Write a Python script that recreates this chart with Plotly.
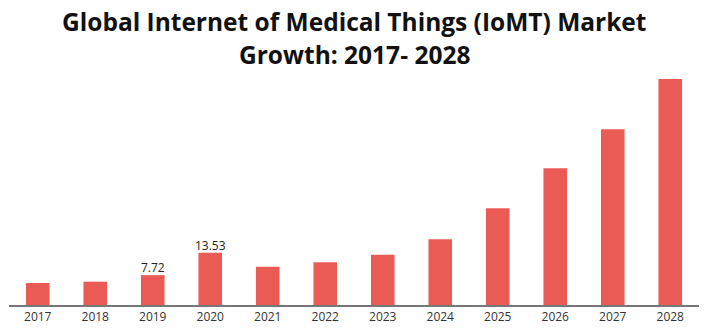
import plotly.graph_objects as go

years = ["2017", "2018", "2019", "2020", "2021", "2022", "2023", "2024", "2025", "2026", "2027", "2028"]
values = [5.69, 6.03, 7.72, 13.53, 9.91, 11.04, 13.0, 17.0, 25.0, 35.36, 45.45, 58.46]
labels = ["", "", "7.72", "13.53", "", "", "", "", "", "", "", ""]
title_lines = ["Global Internet of Medical Things (IoMT) Market", "Growth: 2017- 2028"]

fig = go.Figure()
fig.add_trace(go.Bar(
    x=years, y=values,
    marker=dict(color="#EB5B56", line=dict(width=0)),
    hoverinfo="skip",
))
fig.add_trace(go.Scatter(
    x=years, y=values, mode="text", text=labels,
    textposition="top center", cliponaxis=False,
    textfont=dict(family="Open Sans", size=12, color="#222222"),
    hoverinfo="skip",
))

for i, line in enumerate(title_lines):
    fig.add_annotation(
        text=line, xref="paper", yref="paper", x=0.5, xanchor="center",
        y=1 + (73 - 22 - 32 * i) / 232.0, yanchor="middle", showarrow=False,
        font=dict(family="Open Sans", size=24.5, color="#111111", weight="bold"),
    )

fig.update_layout(
    width=708, height=333,
    margin=dict(l=9, r=9, t=73, b=28),
    paper_bgcolor="white", plot_bgcolor="white",
    bargap=0.59,
    showlegend=False,
    xaxis=dict(
        range=[-0.5, 11.5],
        showline=True, linecolor="#777777", linewidth=2,
        ticks="", showgrid=False,
        tickfont=dict(family="Open Sans", size=12, color="#333333"),
    ),
    yaxis=dict(range=[0, 60], visible=False, showgrid=False, zeroline=False),
)

fig.write_html("out.html")
